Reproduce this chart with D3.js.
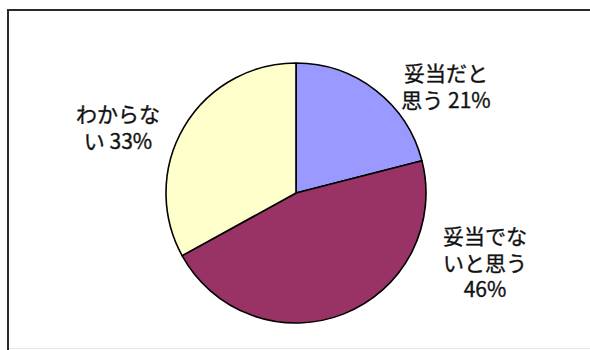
<!DOCTYPE html>
<html lang="ja">
<head>
<meta charset="utf-8">
<script src="https://cdn.jsdelivr.net/npm/d3@7"></script>
<style>
  html, body { margin: 0; padding: 0; background: #fff; }
  svg { display: block; }
  text { font-family: "Noto Sans CJK JP", "Noto Sans", sans-serif; fill: #111; }
</style>
</head>
<body>
<svg id="chart" width="590" height="350"></svg>
<script>
// Survey answers (percent)
const categories = ["妥当だと思う", "妥当でないと思う", "わからない"];
const values = [21, 46, 33];
const colors = ["#9999ff", "#993366", "#ffffcc"];

// Where each label block is centred
const labelAnchors = [[446, 81], [485, 244], [118, 122]];

const W = 590, H = 350;
const cx = 296, cy = 193, radius = 130;
const fontSize = 21, lineGap = 26.5;

const svg = d3.select("#chart");

// Frame (top and left edges dark, bottom edge faint)
svg.append("line").attr("x1", 8).attr("y1", 10).attr("x2", W).attr("y2", 10)
  .attr("stroke", "#2a2a2a").attr("stroke-width", 2);
svg.append("line").attr("x1", 8).attr("y1", 9).attr("x2", 8).attr("y2", H)
  .attr("stroke", "#2a2a2a").attr("stroke-width", 2);
svg.append("line").attr("x1", 9).attr("y1", 348.5).attr("x2", W).attr("y2", 348.5)
  .attr("stroke", "#e4e4e4").attr("stroke-width", 1);

const pie = d3.pie().sort(null).value(d => d.value);
const arcs = pie(categories.map((c, i) => ({ name: c, value: values[i], color: colors[i] })));
const arc = d3.arc().innerRadius(0).outerRadius(radius);

const g = svg.append("g").attr("transform", `translate(${cx},${cy})`);
g.selectAll("path.slice")
  .data(arcs)
  .join("path")
  .attr("class", "slice")
  .attr("d", arc)
  .attr("fill", d => d.data.color)
  .attr("stroke", "#000")
  .attr("stroke-width", 1.6)
  .attr("stroke-linejoin", "round");

// Break "name pct%" into lines of four characters, as in the labels
function labelLines(name, pct) {
  const chunks = [];
  for (let i = 0; i < name.length; i += 4) chunks.push(name.slice(i, i + 4));
  const last = chunks[chunks.length - 1];
  if (last.length <= 2) chunks[chunks.length - 1] = last + " " + pct + "%";
  else chunks.push(pct + "%");
  return chunks;
}

const labels = svg.selectAll("text.label")
  .data(arcs)
  .join("text")
  .attr("class", "label")
  .attr("text-anchor", "middle")
  .attr("font-size", fontSize)
  .attr("stroke", "#111")
  .attr("stroke-width", 0.35)
  .attr("x", (d, i) => labelAnchors[i][0])
  .attr("y", (d, i) => labelAnchors[i][1]);

labels.each(function (d, i) {
  const lines = labelLines(d.data.name, d.data.value);
  d3.select(this).selectAll("tspan")
    .data(lines)
    .join("tspan")
    .attr("x", labelAnchors[i][0])
    .attr("dy", (t, k) => k === 0 ? 0 : lineGap)
    .text(t => t);
});
</script>
</body>
</html>
